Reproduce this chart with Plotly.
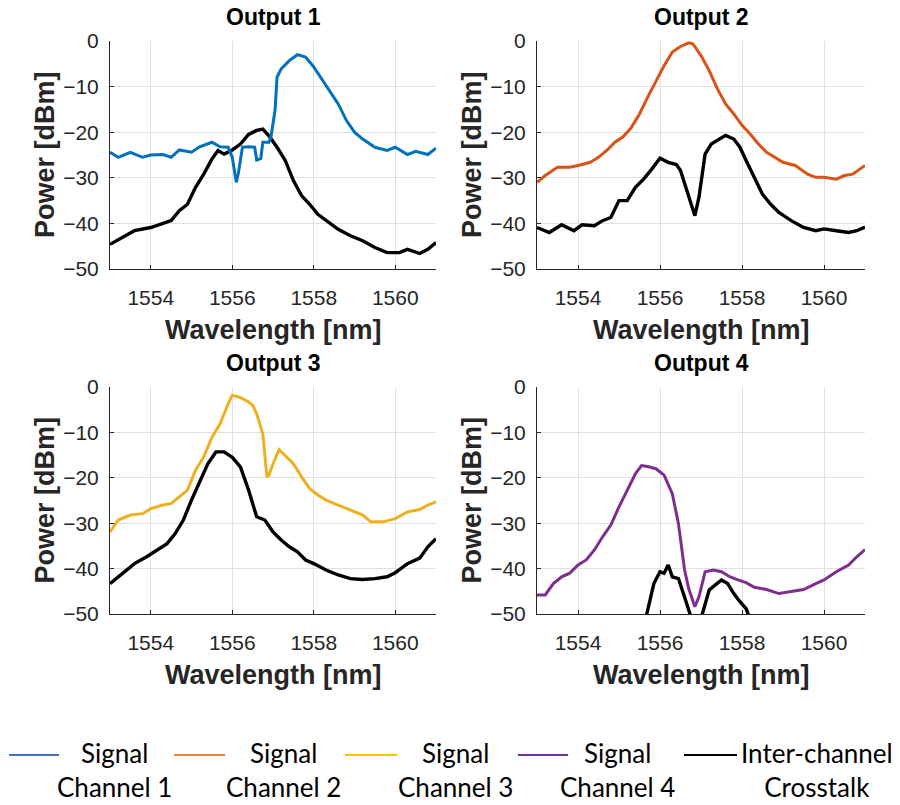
import plotly.graph_objects as go

# ---------------- data ----------------
wl_ch1 = [1553.0, 1553.2, 1553.5, 1553.8, 1554.0, 1554.3, 1554.5, 1554.7, 1555.0, 1555.2,
          1555.5, 1555.7, 1555.9, 1556.0, 1556.1, 1556.15, 1556.25, 1556.4, 1556.55, 1556.6,
          1556.7, 1556.75, 1556.9, 1556.95, 1557.05, 1557.1, 1557.2, 1557.4, 1557.6, 1557.8,
          1558.0, 1558.2, 1558.4, 1558.6, 1558.8, 1559.0, 1559.2, 1559.5, 1559.8, 1560.0,
          1560.3, 1560.5, 1560.8, 1561.0]
p_ch1 = [-24.4, -25.5, -24.4, -25.5, -25.0, -24.9, -25.5, -23.9, -24.4, -23.2,
         -22.2, -23.2, -23.3, -25.5, -31.0, -29.0, -23.3, -23.2, -23.3, -26.1,
         -25.8, -22.2, -22.2, -21.0, -15.2, -7.9, -6.1, -4.3, -3.0, -3.5,
         -5.7, -8.5, -11.0, -13.8, -17.4, -20.0, -21.5, -23.3, -24.0, -23.3,
         -24.9, -24.2, -24.9, -23.5]

wl_xt1 = [1553.0, 1553.3, 1553.6, 1554.0, 1554.3, 1554.5, 1554.7, 1554.9, 1555.1, 1555.3,
          1555.5, 1555.65, 1555.8, 1556.0, 1556.2, 1556.4, 1556.6, 1556.75, 1556.9, 1557.1,
          1557.3, 1557.5, 1557.7, 1557.9, 1558.1, 1558.3, 1558.6, 1558.9, 1559.2, 1559.5,
          1559.8, 1560.1, 1560.3, 1560.6, 1560.8, 1561.0]
p_xt1 = [-44.6, -43.1, -41.6, -40.9, -40.0, -39.4, -37.2, -35.8, -32.1, -29.2,
         -25.9, -24.0, -24.8, -23.9, -22.6, -20.5, -19.6, -19.3, -20.8, -23.3,
         -26.2, -30.6, -33.9, -35.8, -38.0, -39.4, -41.3, -42.7, -43.8, -45.3,
         -46.4, -46.4, -45.7, -46.6, -45.7, -44.2]

wl_ch2 = [1553.0, 1553.2, 1553.5, 1553.8, 1554.0, 1554.3, 1554.5, 1554.7, 1554.9, 1555.1,
          1555.3, 1555.5, 1555.7, 1555.9, 1556.1, 1556.3, 1556.5, 1556.7, 1556.8, 1557.0,
          1557.2, 1557.4, 1557.6, 1557.8, 1558.0, 1558.2, 1558.4, 1558.6, 1558.8, 1559.0,
          1559.3, 1559.6, 1559.8, 1560.0, 1560.3, 1560.5, 1560.7, 1561.0]
p_ch2 = [-31.0, -29.5, -27.7, -27.7, -27.3, -26.6, -25.5, -24.0, -22.2, -21.0,
         -19.0, -16.0, -12.3, -8.7, -5.4, -2.4, -1.2, -0.4, -0.6, -3.2,
         -6.5, -10.5, -13.8, -16.0, -18.5, -20.4, -22.6, -24.4, -25.5, -26.6,
         -27.3, -29.2, -29.9, -29.9, -30.3, -29.5, -29.2, -27.3]

wl_xt2 = [1553.0, 1553.3, 1553.6, 1553.9, 1554.1, 1554.4, 1554.6, 1554.8, 1555.0, 1555.2,
          1555.4, 1555.6, 1555.8, 1556.0, 1556.2, 1556.4, 1556.5, 1556.65, 1556.75, 1556.85,
          1556.95, 1557.05, 1557.1, 1557.25, 1557.4, 1557.6, 1557.8, 1557.95, 1558.1, 1558.3,
          1558.5, 1558.7, 1558.9, 1559.2, 1559.5, 1559.8, 1560.0, 1560.3, 1560.6, 1560.8,
          1561.0]
p_xt2 = [-40.9, -42.0, -40.3, -41.6, -40.3, -40.5, -39.4, -38.7, -35.0, -35.0,
         -32.1, -30.3, -28.1, -25.7, -26.6, -27.1, -28.4, -32.5, -35.0, -38.3,
         -34.3, -28.4, -24.8, -22.6, -21.8, -20.7, -21.5, -23.3, -26.2, -29.9,
         -33.6, -35.8, -37.6, -39.4, -40.9, -41.6, -41.2, -41.6, -42.0, -41.6,
         -40.8]

wl_ch3 = [1553.0, 1553.2, 1553.5, 1553.8, 1554.0, 1554.3, 1554.5, 1554.7, 1554.9, 1555.1,
          1555.3, 1555.5, 1555.7, 1555.9, 1556.0, 1556.2, 1556.4, 1556.5, 1556.6, 1556.75,
          1556.85, 1556.9, 1557.0, 1557.15, 1557.3, 1557.5, 1557.7, 1557.9, 1558.1, 1558.3,
          1558.6, 1558.9, 1559.2, 1559.4, 1559.7, 1560.0, 1560.3, 1560.6, 1560.8, 1561.0]
p_ch3 = [-31.9, -29.3, -28.2, -27.9, -26.8, -26.0, -25.7, -24.2, -22.7, -18.3,
         -15.4, -11.1, -8.1, -3.7, -1.8, -2.3, -3.3, -4.0, -5.9, -10.3,
         -19.8, -19.4, -16.9, -13.8, -15.2, -16.9, -19.8, -22.4, -23.8, -24.9,
         -26.0, -27.1, -28.2, -29.7, -29.7, -29.0, -27.5, -27.0, -26.0, -25.3]

wl_xt3 = [1553.0, 1553.3, 1553.6, 1553.9, 1554.1, 1554.4, 1554.6, 1554.8, 1555.0, 1555.2,
          1555.4, 1555.6, 1555.8, 1556.0, 1556.2, 1556.4, 1556.6, 1556.8, 1557.0, 1557.2,
          1557.4, 1557.6, 1557.8, 1558.0, 1558.3, 1558.6, 1558.9, 1559.2, 1559.5, 1559.8,
          1560.0, 1560.3, 1560.6, 1560.8, 1561.0]
p_xt3 = [-43.3, -41.0, -38.9, -37.4, -36.3, -34.5, -32.3, -29.3, -24.9, -20.9,
         -16.9, -14.3, -14.3, -15.5, -17.6, -22.7, -28.6, -29.3, -31.9, -33.7,
         -35.2, -36.3, -38.1, -38.9, -40.3, -41.4, -42.2, -42.4, -42.2, -41.8,
         -40.9, -38.9, -37.7, -35.2, -33.4]

wl_ch4 = [1553.0, 1553.2, 1553.4, 1553.6, 1553.8, 1554.0, 1554.2, 1554.4, 1554.6, 1554.8,
          1555.0, 1555.2, 1555.4, 1555.55, 1555.7, 1555.9, 1556.1, 1556.3, 1556.45, 1556.6,
          1556.7, 1556.85, 1556.95, 1557.1, 1557.3, 1557.5, 1557.7, 1557.9, 1558.1, 1558.3,
          1558.6, 1558.9, 1559.2, 1559.5, 1559.8, 1560.0, 1560.3, 1560.6, 1560.8, 1561.0]
p_ch4 = [-45.8, -45.8, -43.3, -41.8, -41.0, -39.2, -38.1, -35.9, -33.0, -30.4,
         -26.4, -22.7, -19.1, -17.3, -17.5, -18.0, -19.4, -23.5, -30.1, -40.3,
         -44.4, -48.4, -46.2, -40.7, -40.3, -40.7, -41.8, -42.5, -43.1, -44.1,
         -44.6, -45.5, -45.1, -44.6, -43.3, -42.5, -40.7, -39.2, -37.4, -35.8]

wl_xt4 = [1555.6, 1555.7, 1555.85, 1556.0, 1556.1, 1556.2, 1556.3, 1556.45, 1556.55, 1556.65,
          1556.75, 1556.85, 1557.0, 1557.1, 1557.2, 1557.35, 1557.5, 1557.65, 1557.8, 1557.95,
          1558.1, 1558.15, 1558.25]
p_xt4 = [-53.0, -48.8, -43.3, -40.7, -41.0, -39.2, -41.8, -42.2, -44.7, -47.7,
         -50.5, -53.0, -51.0, -47.7, -44.7, -43.6, -42.5, -43.3, -45.5, -47.3,
         -48.8, -50.0, -53.0]

panel_titles = ["Output 1", "Output 2", "Output 3", "Output 4"]
x_tick_vals = [1554, 1556, 1558, 1560]
y_tick_vals = [0, -10, -20, -30, -40, -50]
legend_labels = ["Signal<br>Channel 1", "Signal<br>Channel 2", "Signal<br>Channel 3",
                 "Signal<br>Channel 4", "Inter-channel<br>Crosstalk"]

# ---------------- styling ----------------
W, H = 900, 805
sig_colors = ["#0072BD", "#D95319", "#EDB120", "#7E2F8E"]
legend_colors = ["#4472C4", "#ED7D31", "#FFC000", "#7030A0", "#000000"]
axis_font = "Arial"
leg_font = "Lato"
txt = "#262626"

# panel pixel boxes: (x0, x1, y0_top, y1_bottom)
boxes = [(110, 436, 41, 269), (537, 865, 41, 269),
         (110, 436, 387, 614), (537, 865, 387, 614)]

signals = [(wl_ch1, p_ch1), (wl_ch2, p_ch2), (wl_ch3, p_ch3), (wl_ch4, p_ch4)]
xtalks = [(wl_xt1, p_xt1), (wl_xt2, p_xt2), (wl_xt3, p_xt3), (wl_xt4, p_xt4)]

fig = go.Figure()
layout = dict(width=W, height=H, margin=dict(l=0, r=0, t=0, b=0, autoexpand=False),
              paper_bgcolor="white", plot_bgcolor="white", showlegend=False,
              template="none", font=dict(family=axis_font, color=txt))
annotations = []
shapes = []

for i in range(4):
    x0, x1, yt, yb = boxes[i]
    xa = "x" if i == 0 else f"x{i+1}"
    ya = "y" if i == 0 else f"y{i+1}"
    xk = "xaxis" if i == 0 else f"xaxis{i+1}"
    yk = "yaxis" if i == 0 else f"yaxis{i+1}"
    layout[xk] = dict(domain=[x0 / W, x1 / W], anchor=ya, range=[1553, 1561],
                      tickvals=x_tick_vals, showgrid=True, gridcolor="#E0E0E0", gridwidth=1,
                      showline=True, linecolor=txt, linewidth=1, zeroline=False,
                      ticks="inside", ticklen=4, tickcolor=txt, automargin=False,
                      tickfont=dict(family=axis_font, size=21, color=txt),
                      ticklabelstandoff=10)
    layout[yk] = dict(domain=[1 - yb / H, 1 - yt / H], anchor=xa, range=[-50, 0],
                      tickvals=y_tick_vals, showgrid=True, gridcolor="#E0E0E0", gridwidth=1,
                      showline=True, linecolor=txt, linewidth=1, zeroline=False,
                      ticks="inside", ticklen=4, tickcolor=txt, automargin=False,
                      tickfont=dict(family=axis_font, size=21, color=txt),
                      ticklabelstandoff=6)
    sx, sy = signals[i]
    kx, ky = xtalks[i]
    fig.add_trace(go.Scatter(x=kx, y=ky, mode="lines", xaxis=xa, yaxis=ya,
                             line=dict(color="black", width=3.4)))
    fig.add_trace(go.Scatter(x=sx, y=sy, mode="lines", xaxis=xa, yaxis=ya,
                             line=dict(color=sig_colors[i], width=3)))
    cx = (x0 + x1) / 2
    annotations.append(dict(text="<b>" + panel_titles[i] + "</b>", x=cx / W, y=1 - (yt - 24) / H,
                            xref="paper", yref="paper", showarrow=False,
                            font=dict(family=axis_font, size=23, color="black"),
                            xanchor="center", yanchor="middle"))
    annotations.append(dict(text="<b>Wavelength [nm]</b>", x=cx / W, y=1 - (yb + 61) / H,
                            xref="paper", yref="paper", showarrow=False,
                            font=dict(family=axis_font, size=27, color=txt),
                            xanchor="center", yanchor="middle"))
    annotations.append(dict(text="<b>Power [dBm]</b>", x=(x0 - 65) / W, y=1 - ((yt + yb) / 2) / H,
                            xref="paper", yref="paper", showarrow=False, textangle=-90,
                            font=dict(family=axis_font, size=27, color=txt),
                            xanchor="center", yanchor="middle"))

# legend drawn below the panels
leg_line_x = [(9, 59), (174, 225), (345, 397), (518, 568), (684, 737)]
leg_text_cx = [115, 283, 455, 617, 817]
for j in range(5):
    lx0, lx1 = leg_line_x[j]
    shapes.append(dict(type="line", xref="paper", yref="paper",
                       x0=lx0 / W, x1=lx1 / W, y0=1 - 755 / H, y1=1 - 755 / H,
                       line=dict(color=legend_colors[j], width=2)))
    annotations.append(dict(text=legend_labels[j], x=leg_text_cx[j] / W, y=1 - 770 / H,
                            xref="paper", yref="paper", showarrow=False, align="center",
                            font=dict(family=leg_font, size=26, color="black"),
                            xanchor="center", yanchor="middle"))

layout["annotations"] = annotations
layout["shapes"] = shapes
fig.update_layout(**layout)
fig.write_html("out.html", config={"displayModeBar": False},
               post_script="document.body.style.margin='0px';")
